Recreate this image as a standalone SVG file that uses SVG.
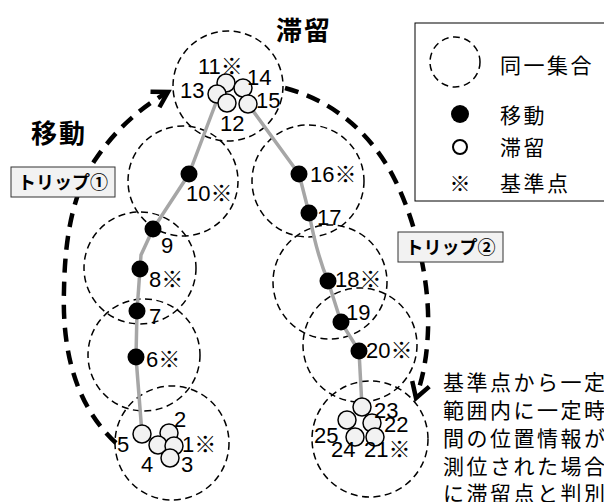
<svg xmlns="http://www.w3.org/2000/svg" width="604" height="502" viewBox="0 0 604 502">
<defs>
<style>
.zone{fill:none;stroke:#000;stroke-width:1.5;stroke-dasharray:7 4.5}
.route{fill:none;stroke:#a6a6a6;stroke-width:3.5;stroke-linejoin:round}
.move{fill:#000}
.stay{fill:#f2f2f2;stroke:#000;stroke-width:1.5}
.num{font-family:"Liberation Sans","Noto Sans CJK JP",sans-serif;font-size:22px;fill:#000}
.trip{fill:none;stroke:#000;stroke-width:4.5;stroke-dasharray:14 9}
.jp{font-family:"Noto Sans CJK JP",sans-serif;font-size:21px;letter-spacing:2.5px;fill:#000}
.title{font-family:"Noto Sans CJK JP",sans-serif;font-weight:bold;font-size:26px;letter-spacing:2px;fill:#000}
.tag rect{fill:#f2f2f2;stroke:#333;stroke-width:1}
.tag text{font-family:"Noto Sans CJK JP",sans-serif;font-weight:bold;font-size:18px;text-anchor:middle;fill:#000}
</style>
<marker id="ah" markerUnits="userSpaceOnUse" markerWidth="30" markerHeight="30" viewBox="-20 -15 30 30" refX="0" refY="0" orient="auto" overflow="visible">
<path d="M-15,-9 L0,0 L-15,9" fill="none" stroke="#000" stroke-width="4.5" stroke-dasharray="none"/>
</marker>
</defs>
<rect width="604" height="502" fill="#fff"/>

<g id="zones">
<circle class="zone" cx="228" cy="86" r="55"/>
<circle class="zone" cx="183" cy="181" r="55"/>
<circle class="zone" cx="308" cy="181" r="56"/>
<circle class="zone" cx="140" cy="268" r="56"/>
<circle class="zone" cx="144" cy="355" r="56"/>
<circle class="zone" cx="172" cy="443" r="57"/>
<circle class="zone" cx="330" cy="282" r="57"/>
<circle class="zone" cx="360" cy="345" r="57"/>
<circle class="zone" cx="370" cy="439" r="58"/>
</g>

<g id="connectors">
<path class="route" d="M217,100 L189,174 L153,229 L141,255 L140,269 L137,311 L136,357 L142,434"/>
<path class="route" d="M248,104 L299,174 L309,213 C314,240 320,262 328,281 L341,322 L359,351 L362,407"/>
<path class="trip" marker-end="url(#ah)" d="M116,443 C75,405 62,350 64,290 C65,230 75,190 95,160 C115,130 140,108 168,92"/>
<path class="trip" marker-end="url(#ah)" d="M285,88 C330,100 370,130 395,180 C415,220 430,280 428,330 C427,360 422,380 416,398"/>
</g>

<g id="cluster-top">
<circle class="stay" cx="226" cy="83" r="9"/>
<circle class="stay" cx="243" cy="88" r="9"/>
<circle class="stay" cx="217" cy="94" r="9"/>
<circle class="stay" cx="227" cy="103" r="9"/>
<circle class="stay" cx="248" cy="104" r="9"/>
<text class="num" x="198" y="74">11※</text>
<text class="num" x="247" y="85">14</text>
<text class="num" x="180" y="98">13</text>
<text class="num" x="256" y="108">15</text>
<text class="num" x="220" y="131">12</text>
</g>

<g id="p10"><circle class="move" cx="189" cy="174" r="8.5"/><text class="num" x="186" y="201">10※</text></g>
<g id="p9"><circle class="move" cx="153" cy="229" r="8.5"/><text class="num" x="161" y="253">9</text></g>
<g id="p8"><circle class="move" cx="140" cy="269" r="8.5"/><text class="num" x="149" y="287">8※</text></g>
<g id="p7"><circle class="move" cx="137" cy="311" r="8.5"/><text class="num" x="149" y="324">7</text></g>
<g id="p6"><circle class="move" cx="136" cy="357" r="8.5"/><text class="num" x="146" y="367">6※</text></g>
<g id="p16"><circle class="move" cx="299" cy="174" r="8.5"/><text class="num" x="310" y="182">16※</text></g>
<g id="p17"><circle class="move" cx="309" cy="213" r="8.5"/><text class="num" x="317" y="225">17</text></g>
<g id="p18"><circle class="move" cx="328" cy="281" r="8.5"/><text class="num" x="335" y="287">18※</text></g>
<g id="p19"><circle class="move" cx="341" cy="322" r="8.5"/><text class="num" x="346" y="320">19</text></g>
<g id="p20"><circle class="move" cx="359" cy="351" r="8.5"/><text class="num" x="366" y="358">20※</text></g>

<g id="cluster-start">
<circle class="stay" cx="142" cy="434" r="9"/>
<circle class="stay" cx="169" cy="433" r="9"/>
<circle class="stay" cx="158" cy="445" r="9"/>
<circle class="stay" cx="174" cy="446" r="9"/>
<circle class="stay" cx="170" cy="458" r="9"/>
<text class="num" x="174" y="427">2</text>
<text class="num" x="117" y="452">5</text>
<text class="num" x="182" y="452">1※</text>
<text class="num" x="141" y="472">4</text>
<text class="num" x="181" y="472">3</text>
</g>

<g id="cluster-end">
<circle class="stay" cx="362" cy="407" r="9"/>
<circle class="stay" cx="347" cy="420" r="9"/>
<circle class="stay" cx="372" cy="423" r="9"/>
<circle class="stay" cx="355" cy="437" r="9"/>
<circle class="stay" cx="375" cy="437" r="9"/>
<text class="num" x="374" y="418">23</text>
<text class="num" x="384" y="432">22</text>
<text class="num" x="314" y="443">25</text>
<text class="num" x="331" y="457">24</text>
<text class="num" x="364" y="457">21※</text>
</g>

<g id="label-stay"><text class="title" x="276" y="40">滞留</text></g>
<g id="label-move"><text class="title" x="31" y="143">移動</text></g>

<g id="trip1" class="tag"><rect x="11" y="167" width="104" height="30"/><text x="63" y="189">トリップ①</text></g>
<g id="trip2" class="tag"><rect x="398" y="232" width="105" height="30"/><text x="450.5" y="254">トリップ②</text></g>

<g id="legend">
<rect x="415" y="23" width="200" height="178" fill="#fff" stroke="#000" stroke-width="1"/>
<circle class="zone" cx="455" cy="62" r="25"/>
<text class="jp" x="500" y="73">同一集合</text>
<circle class="move" cx="460" cy="114" r="9"/>
<text class="jp" x="500" y="123">移動</text>
<circle cx="460" cy="147" r="7" fill="#fff" stroke="#000" stroke-width="2"/>
<text class="jp" x="500" y="155">滞留</text>
<text class="jp" x="460" y="191" text-anchor="middle" style="letter-spacing:0">※</text>
<text class="jp" x="500" y="191">基準点</text>
</g>

<g id="note">
<text class="jp" x="443" y="390">基準点から一定</text>
<text class="jp" x="443" y="418">範囲内に一定時</text>
<text class="jp" x="443" y="446">間の位置情報が</text>
<text class="jp" x="443" y="474">測位された場合</text>
<text class="jp" x="443" y="501">に滞留点と判別</text>
</g>
</svg>
